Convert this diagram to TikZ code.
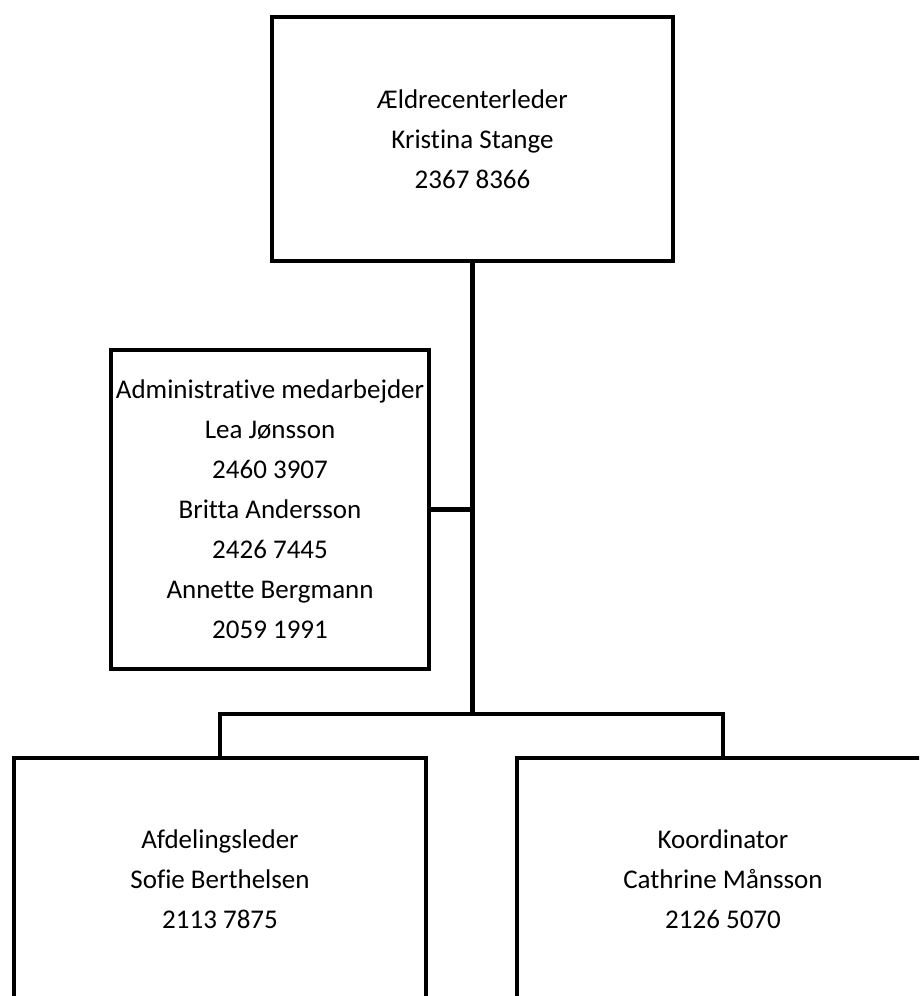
\documentclass[tikz,border=0pt]{standalone}
\usepackage{fontspec}
\setmainfont{Carlito}[Ligatures=NoCommon]
\usepackage{tikz}

\begin{document}
\begin{tikzpicture}[x=1pt, y=-1pt,
    orgbox/.style={draw=black, line width=4.5pt, align=center, inner sep=0pt,
      font=\fontsize{27}{40}\selectfont},
    orgline/.style={black, line width=4.5pt}]
    \clip (0,0) rectangle (919,996);
    \node[orgbox, minimum width=401pt, minimum height=244pt] (leader) at (472.5,139)
      {Ældrecenterleder\\ Kristina Stange\\ 2367 8366};
    \node[orgbox, minimum width=318pt, minimum height=319pt] (admin) at (270,509.5)
      {Administrative medarbejder\\ Lea Jønsson\\ 2460 3907\\ Britta Andersson\\ 2426 7445\\ Annette Bergmann\\ 2059 1991};
    \node[orgbox, minimum width=412pt, minimum height=242pt] (afd) at (220,879)
      {Afdelingsleder\\ Sofie Berthelsen\\ 2113 7875};
    \node[orgbox, minimum width=412pt, minimum height=242pt] (koord) at (723,879)
      {Koordinator\\ Cathrine Månsson\\ 2126 5070};
    \coordinate (hub) at (472.5,714);
    \coordinate (tee) at (leader.south |- admin.east);
    \draw[orgline] (leader.south) -- (hub);
    \draw[orgline] (admin.east) -- (tee);
    \draw[orgline] (afd.north) |- (hub) -| (koord.north);
  \end{tikzpicture}
\end{document}
